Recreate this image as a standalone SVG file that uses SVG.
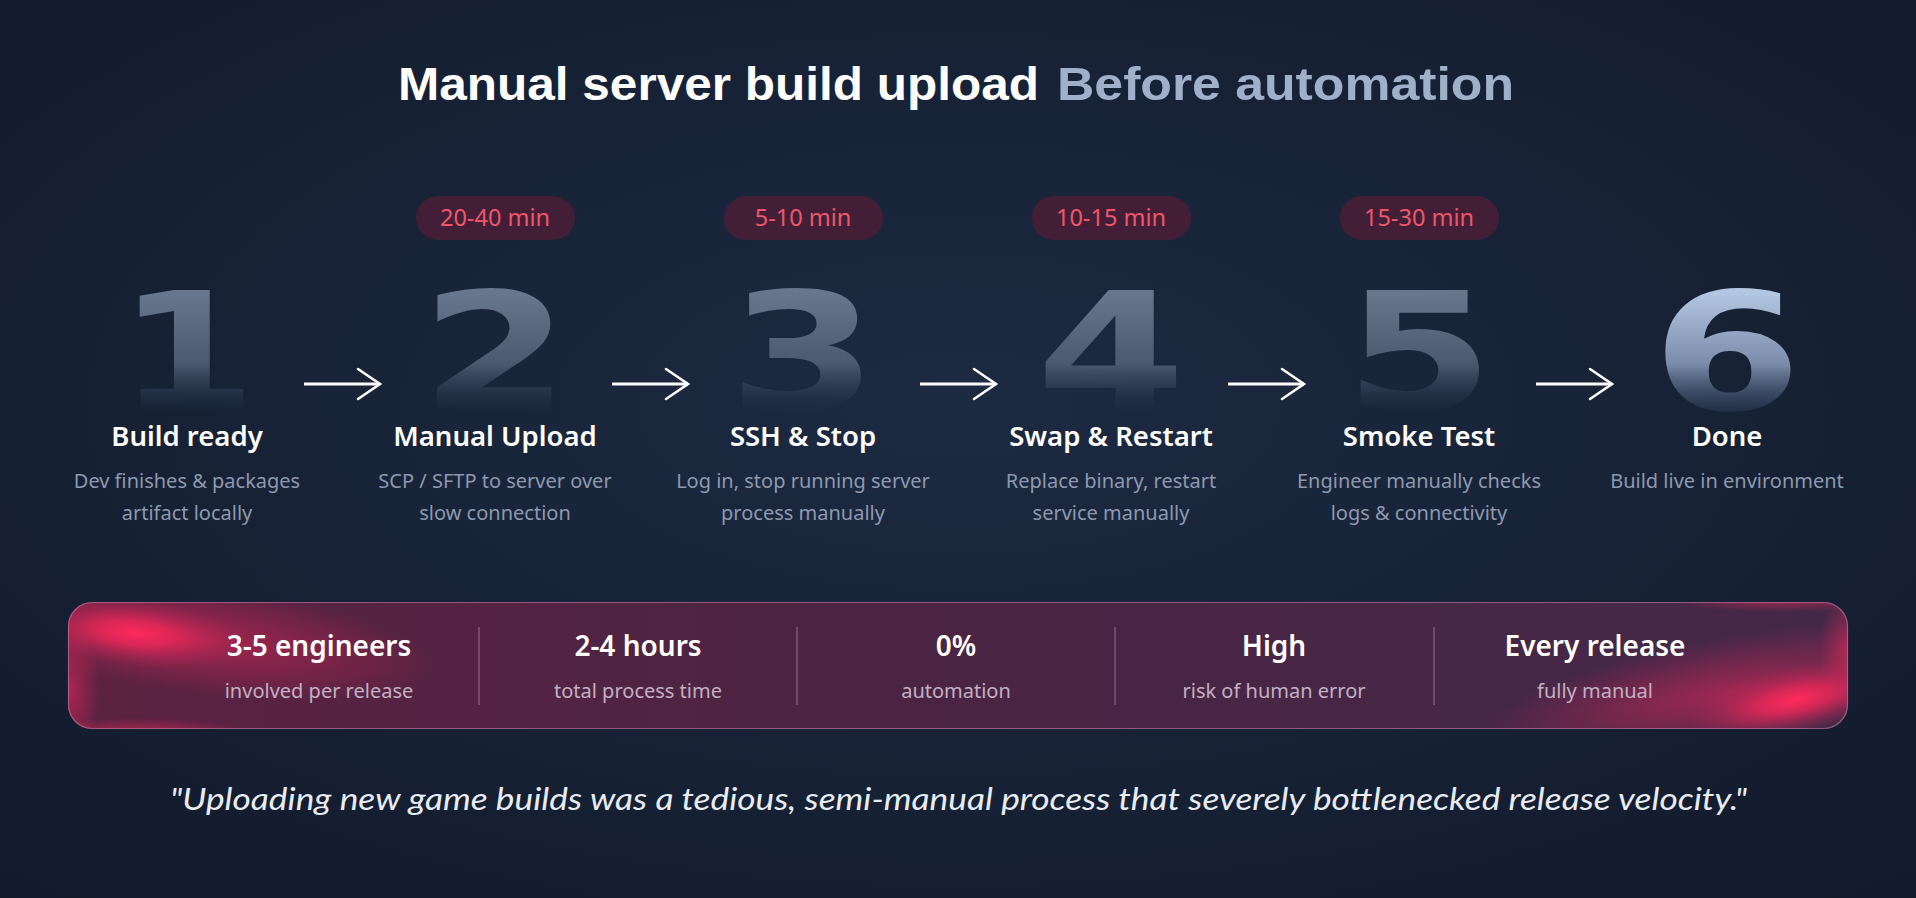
<svg xmlns="http://www.w3.org/2000/svg" width="1916" height="898" viewBox="0 0 1916 898">
<defs>
<radialGradient id="bg" cx="0.5" cy="0.45" r="0.75">
<stop offset="0" stop-color="#1c2a42"/>
<stop offset="1" stop-color="#121a2a"/>
</radialGradient>
<linearGradient id="numg" gradientUnits="userSpaceOnUse" x1="0" y1="292" x2="0" y2="412">
<stop offset="0" stop-color="#68768e"/>
<stop offset="0.6" stop-color="#4a5870"/>
<stop offset="1" stop-color="#2a3850" stop-opacity="0"/>
</linearGradient>
<linearGradient id="numg6" gradientUnits="userSpaceOnUse" x1="0" y1="292" x2="0" y2="412">
<stop offset="0" stop-color="#b4c7e2"/>
<stop offset="0.6" stop-color="#7a8caa"/>
<stop offset="1" stop-color="#4a5c7a" stop-opacity="0.2"/>
</linearGradient>
<linearGradient id="panel" x1="0" y1="0" x2="1" y2="0">
<stop offset="0" stop-color="#5c2242"/>
<stop offset="0.5" stop-color="#4a2443"/>
<stop offset="1" stop-color="#442848"/>
</linearGradient>
<radialGradient id="glow">
<stop offset="0" stop-color="#ff2a5c" stop-opacity="1"/>
<stop offset="0.35" stop-color="#f0285a" stop-opacity="0.75"/>
<stop offset="0.7" stop-color="#d02858" stop-opacity="0.3"/>
<stop offset="1" stop-color="#c02858" stop-opacity="0"/>
</radialGradient>
<radialGradient id="glowsoft">
<stop offset="0" stop-color="#e8285a" stop-opacity="0.55"/>
<stop offset="1" stop-color="#e8285a" stop-opacity="0"/>
</radialGradient>
<clipPath id="pclip"><rect x="68" y="602" width="1780" height="127" rx="24"/></clipPath>
<marker id="arr" viewBox="0 0 30 36" refX="27" refY="18" markerWidth="30" markerHeight="36" markerUnits="userSpaceOnUse" orient="auto">
<path d="M5 3 L27 18 L5 33" fill="none" stroke="#ffffff" stroke-width="2.6" stroke-linecap="round" stroke-linejoin="miter"/>
</marker>
<style>
.num{font-family:"DejaVu Sans",sans-serif;font-weight:bold;font-size:164px;text-anchor:middle;fill:url(#numg)}
.pill{fill:#4a1f36;fill-opacity:0.85}
.ptxt{font-family:"Noto Sans",sans-serif;font-size:23.5px;fill:#f0566a;text-anchor:middle}
.st{font-family:"Noto Sans",sans-serif;font-weight:600;font-size:27.5px;fill:#ffffff;text-anchor:middle}
.sd{font-family:"Noto Sans",sans-serif;font-size:20px;fill:#8d99ae;text-anchor:middle}
.sv{font-family:"Noto Sans",sans-serif;font-weight:600;font-size:28px;fill:#ffffff;text-anchor:middle}
.sl{font-family:"Noto Sans",sans-serif;font-size:20px;fill:#c2b0c4;text-anchor:middle}
.div{stroke:#a07a9c;stroke-opacity:0.6;stroke-width:1.5}
.conn{stroke:#ffffff;stroke-width:3;fill:none;marker-end:url(#arr)}
</style>
</defs>
<rect width="1916" height="898" fill="url(#bg)"/>

<g id="title">
<text x="398" y="100" font-family="Liberation Sans, sans-serif" font-weight="bold" font-size="46" fill="#ffffff" textLength="641" lengthAdjust="spacingAndGlyphs">Manual server build upload</text>
<text x="1057" y="100" font-family="Liberation Sans, sans-serif" font-weight="bold" font-size="46" fill="#9fb0c8" textLength="457" lengthAdjust="spacingAndGlyphs">Before automation</text>
</g>

<g id="step1">
<text class="num" x="187" y="410" textLength="140" lengthAdjust="spacingAndGlyphs">1</text>
<text class="st" x="187" y="446">Build ready</text>
<text class="sd" x="187" y="488">Dev finishes &amp; packages</text>
<text class="sd" x="187" y="520">artifact locally</text>
</g>
<g id="step2">
<rect class="pill" x="416" y="196" width="159" height="44" rx="22"/>
<text class="ptxt" x="495" y="226">20-40 min</text>
<text class="num" x="495" y="410" textLength="150" lengthAdjust="spacingAndGlyphs">2</text>
<text class="st" x="495" y="446">Manual Upload</text>
<text class="sd" x="495" y="488">SCP / SFTP to server over</text>
<text class="sd" x="495" y="520">slow connection</text>
</g>
<g id="step3">
<rect class="pill" x="724" y="196" width="159" height="44" rx="22"/>
<text class="ptxt" x="803" y="226">5-10 min</text>
<text class="num" x="803" y="410" textLength="150" lengthAdjust="spacingAndGlyphs">3</text>
<text class="st" x="803" y="446">SSH &amp; Stop</text>
<text class="sd" x="803" y="488">Log in, stop running server</text>
<text class="sd" x="803" y="520">process manually</text>
</g>
<g id="step4">
<rect class="pill" x="1032" y="196" width="159" height="44" rx="22"/>
<text class="ptxt" x="1111" y="226">10-15 min</text>
<text class="num" x="1111" y="410" textLength="150" lengthAdjust="spacingAndGlyphs">4</text>
<text class="st" x="1111" y="446">Swap &amp; Restart</text>
<text class="sd" x="1111" y="488">Replace binary, restart</text>
<text class="sd" x="1111" y="520">service manually</text>
</g>
<g id="step5">
<rect class="pill" x="1340" y="196" width="159" height="44" rx="22"/>
<text class="ptxt" x="1419" y="226">15-30 min</text>
<text class="num" x="1419" y="410" textLength="150" lengthAdjust="spacingAndGlyphs">5</text>
<text class="st" x="1419" y="446">Smoke Test</text>
<text class="sd" x="1419" y="488">Engineer manually checks</text>
<text class="sd" x="1419" y="520">logs &amp; connectivity</text>
</g>
<g id="step6">
<text class="num" x="1727" y="410" textLength="150" lengthAdjust="spacingAndGlyphs" style="fill:url(#numg6)">6</text>
<text class="st" x="1727" y="446">Done</text>
<text class="sd" x="1727" y="488">Build live in environment</text>
</g>

<g id="connectors">
<line class="conn" x1="304" y1="384" x2="380" y2="384"/>
<line class="conn" x1="612" y1="384" x2="688" y2="384"/>
<line class="conn" x1="920" y1="384" x2="996" y2="384"/>
<line class="conn" x1="1228" y1="384" x2="1304" y2="384"/>
<line class="conn" x1="1536" y1="384" x2="1612" y2="384"/>
</g>

<g id="stats">
<rect x="68" y="602" width="1780" height="127" rx="24" fill="url(#panel)"/>
<g clip-path="url(#pclip)">
<ellipse cx="190" cy="638" rx="250" ry="55" fill="url(#glowsoft)" transform="rotate(7 190 638)"/>
<ellipse cx="135" cy="633" rx="110" ry="34" fill="url(#glow)" transform="rotate(6 135 633)"/>
<ellipse cx="70" cy="690" rx="30" ry="70" fill="url(#glowsoft)"/>
<ellipse cx="140" cy="732" rx="110" ry="14" fill="url(#glowsoft)"/>
<ellipse cx="1730" cy="692" rx="250" ry="55" fill="url(#glowsoft)" transform="rotate(-10 1730 692)"/>
<ellipse cx="1795" cy="700" rx="110" ry="34" fill="url(#glow)" transform="rotate(-12 1795 700)"/>
<ellipse cx="1846" cy="650" rx="26" ry="60" fill="url(#glowsoft)"/>
<ellipse cx="1780" cy="600" rx="110" ry="12" fill="url(#glowsoft)"/>
</g>
<rect x="68.5" y="602.5" width="1779" height="126" rx="24" fill="none" stroke="#b0709a" stroke-opacity="0.7" stroke-width="1.2"/>
<line class="div" x1="479" y1="627" x2="479" y2="705"/>
<line class="div" x1="797" y1="627" x2="797" y2="705"/>
<line class="div" x1="1115" y1="627" x2="1115" y2="705"/>
<line class="div" x1="1434" y1="627" x2="1434" y2="705"/>
<text class="sv" x="319" y="656">3-5 engineers</text>
<text class="sl" x="319" y="698">involved per release</text>
<text class="sv" x="638" y="656">2-4 hours</text>
<text class="sl" x="638" y="698">total process time</text>
<text class="sv" x="956" y="656">0%</text>
<text class="sl" x="956" y="698">automation</text>
<text class="sv" x="1274" y="656">High</text>
<text class="sl" x="1274" y="698">risk of human error</text>
<text class="sv" x="1595" y="656">Every release</text>
<text class="sl" x="1595" y="698">fully manual</text>
</g>

<g id="quote">
<text x="170" y="810" font-family="Lato, sans-serif" font-style="italic" font-size="30" fill="#e8ecf4" textLength="1577" lengthAdjust="spacingAndGlyphs">"Uploading new game builds was a tedious, semi-manual process that severely bottlenecked release velocity."</text>
</g>
</svg>
